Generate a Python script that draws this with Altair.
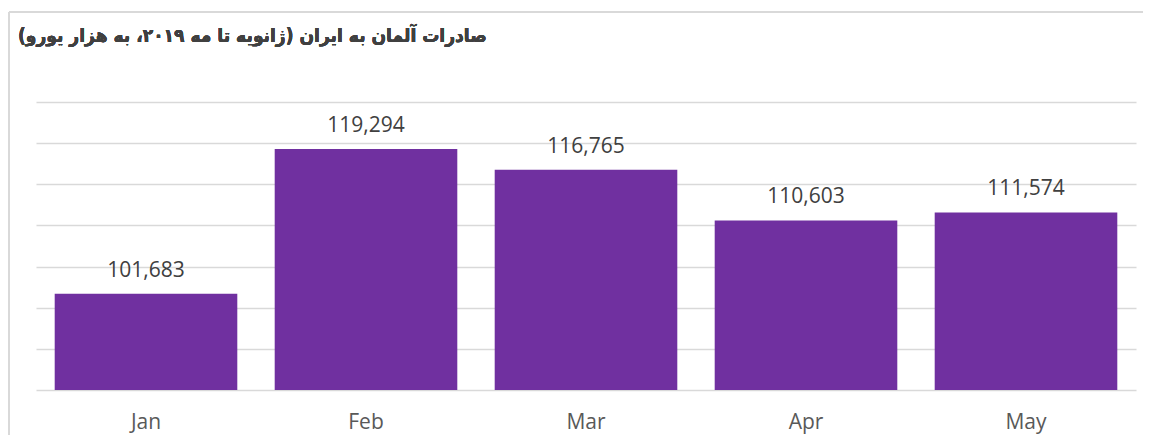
import altair as alt
import pandas as pd

months = ["Jan", "Feb", "Mar", "Apr", "May"]
values = [101683, 119294, 116765, 110603, 111574]
title_text = "صادرات آلمان به ایران (ژانویه تا مه ۲۰۱۹، به هزار یورو)"

df = pd.DataFrame({"month": months, "value": values})

W, H = 1100, 288
LEFT, TOP = 28, 94

x_enc = alt.X("month:N", sort=months,
              scale=alt.Scale(paddingInner=0.17, paddingOuter=0.085),
              axis=alt.Axis(title=None, ticks=False, domain=False, labelAngle=0,
                            labelFont="Open Sans", labelFontSize=21,
                            labelColor="#595959", labelPadding=21, grid=False))
y_scale = alt.Scale(domain=[90000, 125000], clamp=True, nice=False, zero=False)

bars = alt.Chart(df).mark_bar(color="#7030A0").encode(
    x=x_enc,
    y=alt.Y("value:Q", scale=y_scale,
            axis=alt.Axis(title=None, labels=False, ticks=False, domain=False,
                          values=list(range(90000, 125001, 5000)),
                          grid=True, gridColor="#d9d9d9", gridWidth=1.5)),
    y2=alt.datum(90000),
)

labels = alt.Chart(df).mark_text(
    font="Open Sans", fontSize=21, color="#404040", baseline="alphabetic", dy=-17
).encode(
    x=alt.X("month:N", sort=months),
    y=alt.Y("value:Q", scale=y_scale),
    text=alt.Text("value:Q", format=","),
)

frame_left = alt.Chart(df).mark_rule(color="#d9d9d9", strokeWidth=1.5).encode(
    x=alt.value(1 - LEFT), y=alt.value(12 - 8 - TOP), y2=alt.value(460)
)
frame_top = alt.Chart(df).mark_rule(color="#d9d9d9", strokeWidth=1.5).encode(
    x=alt.value(1 - LEFT), x2=alt.value(1200), y=alt.value(12 - 8 - TOP)
)

title = alt.Chart(df).mark_text(
    font="DejaVu Sans Condensed", fontSize=19, fontWeight="bold", color="#404040",
    align="left", baseline="middle"
).encode(
    x=alt.value(18 - 8 - LEFT), y=alt.value(36 - 8 - TOP), text=alt.value(title_text)
)

chart = alt.layer(bars, labels, frame_left, frame_top, title).properties(
    width=W, height=H,
    autosize=alt.AutoSizeParams(type="none"),
    padding={"left": LEFT, "top": TOP, "right": 7, "bottom": 45},
).configure_view(stroke=None)

chart.save("out.html", embed_options={"renderer": "svg", "actions": False})
